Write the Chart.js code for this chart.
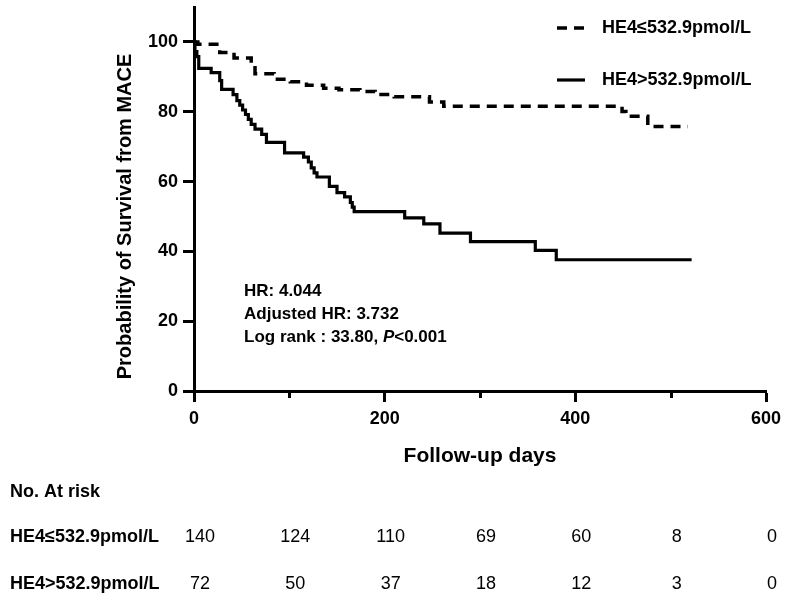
<!DOCTYPE html>
<html>
<head>
<meta charset="utf-8">
<script src="https://cdn.jsdelivr.net/npm/chart.js@4.4.1/dist/chart.umd.min.js"></script>
<style>
  html, body { margin: 0; padding: 0; background: #fff; }
  #wrap { position: relative; width: 793px; height: 602px; }
</style>
</head>
<body>
<div id="wrap"><canvas id="kmChart" width="793" height="602"></canvas></div>
<script>
// Kaplan-Meier steps: event day -> % free of MACE
const lowDays = [0, 4, 27, 42, 60, 64, 84, 101, 118, 136, 152, 174, 190, 210, 247, 262, 449, 453, 476, 518];
const lowSurv = [100, 99.3, 97.0, 95.4, 93.3, 90.9, 89.3, 88.6, 87.6, 86.7, 86.3, 85.8, 84.9, 84.3, 82.8, 81.6, 80.1, 78.7, 75.8, 75.8];

const highDays = [0, 1, 3, 5, 18, 27, 29, 41, 45, 48, 51, 54, 57, 60, 64, 71, 76, 95, 115, 120, 123, 126, 129, 142, 150, 158, 164, 166, 168, 221, 241, 258, 290, 358, 380, 522];
const highSurv = [100, 97.2, 95.8, 92.4, 91.2, 88.9, 86.4, 84.9, 83.2, 81.9, 80.5, 79.2, 77.8, 76.4, 75.0, 73.5, 71.2, 68.2, 67.0, 65.6, 63.9, 62.5, 61.3, 58.6, 56.8, 55.6, 54.0, 52.7, 51.4, 49.6, 47.9, 45.2, 42.8, 40.3, 37.6, 37.6];

const seriesLabels = ['HE4≤532.9pmol/L', 'HE4>532.9pmol/L'];
const xTicks = [0, 100, 200, 300, 400, 500, 600];
const yTicks = [0, 20, 40, 60, 80, 100];
const yTitle = 'Probability of Survival from MACE';

// number at risk under each x tick
const lowAtRisk = [140, 124, 110, 69, 60, 8, 0];
const highAtRisk = [72, 50, 37, 18, 12, 3, 0];

const statLines = ['HR: 4.044', 'Adjusted HR: 3.732', 'Log rank : 33.80, P<0.001'];

const FONT = "'Liberation Sans', Arial, sans-serif";
Chart.defaults.font.family = FONT;
Chart.defaults.color = '#000';

function toPoints(days, surv) {
    return days.map((d, i) => ({ x: d, y: surv[i] }));
}

// y title, legend, stats text, minor ticks and the at-risk table
const extrasPlugin = {
    id: 'extras',
    afterDraw(chart) {
        const ctx = chart.ctx;
        const xs = chart.scales.x;
        const ys = chart.scales.y;
        const bottom = chart.chartArea.bottom;
        ctx.save();
        ctx.fillStyle = '#000';
        ctx.strokeStyle = '#000';

        // minor x ticks (shorter)
        ctx.lineWidth = 3;
        xTicks.filter(v => v % 200 !== 0).forEach(v => {
            const px = Math.round(xs.getPixelForValue(v)) + 0.5;
            ctx.beginPath();
            ctx.moveTo(px, bottom);
            ctx.lineTo(px, bottom + 7);
            ctx.stroke();
        });

        // y axis title, centred on the 0-100 range
        ctx.save();
        ctx.translate(125, ys.getPixelForValue(50));
        ctx.rotate(-Math.PI / 2);
        ctx.font = `bold 20px ${FONT}`;
        ctx.textAlign = 'center';
        ctx.textBaseline = 'middle';
        ctx.fillText(yTitle, 0, 0);
        ctx.restore();

        // legend
        ctx.textBaseline = 'middle';
        ctx.textAlign = 'left';
        const legendRows = [28, 80];
        chart.data.datasets.forEach((ds, i) => {
            const y = legendRows[i];
            ctx.lineWidth = ds.borderWidth;
            ctx.setLineDash(ds.borderDash || []);
            ctx.beginPath();
            ctx.moveTo(557, y);
            ctx.lineTo(585, y);
            ctx.stroke();
            ctx.setLineDash([]);
            ctx.font = `bold 18px ${FONT}`;
            ctx.fillText(ds.label, 602, y);
        });

        // statistics
        const statY = [291, 314, 337];
        statLines.forEach((line, i) => {
            let cx = 244;
            const k = line.indexOf('P<');
            const parts = k < 0 ? [[line, false]] :
                [[line.slice(0, k), false], ['P', true], [line.slice(k + 1), false]];
            parts.forEach(([txt, ital]) => {
                ctx.font = `${ital ? 'italic ' : ''}bold 17px ${FONT}`;
                ctx.fillText(txt, cx, statY[i]);
                cx += ctx.measureText(txt).width;
            });
        });

        // number at risk table
        ctx.font = `bold 18px ${FONT}`;
        ctx.fillText('No. At risk', 10, 492);
        ctx.fillText(seriesLabels[0], 10, 537);
        ctx.fillText(seriesLabels[1], 10, 584);
        ctx.font = `18px ${FONT}`;
        ctx.textAlign = 'center';
        xTicks.forEach((d, i) => {
            const px = xs.getPixelForValue(d) + 6;
            ctx.fillText(String(lowAtRisk[i]), px, 537);
            ctx.fillText(String(highAtRisk[i]), px, 584);
        });
        ctx.restore();
    }
};

const ctx = document.getElementById('kmChart').getContext('2d');
new Chart(ctx, {
    type: 'line',
    data: {
        datasets: [
            {
                label: seriesLabels[0],
                data: toPoints(lowDays, lowSurv),
                borderColor: '#000',
                borderWidth: 3.5,
                borderDash: [10, 7],
                borderCapStyle: 'butt',
                stepped: true,
                pointRadius: 0,
                fill: false
            },
            {
                label: seriesLabels[1],
                data: toPoints(highDays, highSurv),
                borderColor: '#000',
                borderWidth: 3.2,
                borderCapStyle: 'butt',
                stepped: true,
                pointRadius: 0,
                fill: false
            }
        ]
    },
    options: {
        responsive: false,
        animation: false,
        layout: { padding: { left: 0, right: 27, top: 7, bottom: 132 } },
        plugins: {
            legend: { display: false },
            tooltip: { enabled: false }
        },
        scales: {
            x: {
                type: 'linear',
                min: 0,
                max: 600,
                afterBuildTicks(s) { s.ticks = xTicks.map(v => ({ value: v })); },
                afterFit(s) { s.height = 79; s.paddingLeft = 0; s.paddingRight = 0; },
                ticks: {
                    autoSkip: false,
                    maxRotation: 0,
                    padding: 6,
                    color: '#000',
                    font: { size: 18, weight: 'bold' },
                    callback: v => (v % 200 === 0 ? v : '')
                },
                grid: {
                    drawOnChartArea: false,
                    drawTicks: true,
                    tickLength: 11,
                    tickWidth: 3,
                    tickColor: c => (c.tick && c.tick.value % 200 === 0 ? '#000' : 'rgba(0,0,0,0)')
                },
                border: { display: true, color: '#000', width: 3 },
                title: {
                    display: true,
                    text: 'Follow-up days',
                    color: '#000',
                    font: { size: 21, weight: 'bold' },
                    padding: { top: 0, bottom: 1 }
                }
            },
            y: {
                min: 0,
                max: 110,
                afterBuildTicks(s) { s.ticks = yTicks.map(v => ({ value: v })); },
                afterFit(s) { s.width = 194; s.paddingTop = 0; s.paddingBottom = 0; },
                ticks: {
                    padding: 5,
                    color: '#000',
                    font: { size: 18, weight: 'bold' }
                },
                grid: {
                    drawOnChartArea: false,
                    drawTicks: true,
                    tickLength: 11,
                    tickWidth: 3,
                    tickColor: '#000'
                },
                border: { display: true, color: '#000', width: 3 },
                title: { display: false }
            }
        }
    },
    plugins: [extrasPlugin]
});
</script>
</body>
</html>
